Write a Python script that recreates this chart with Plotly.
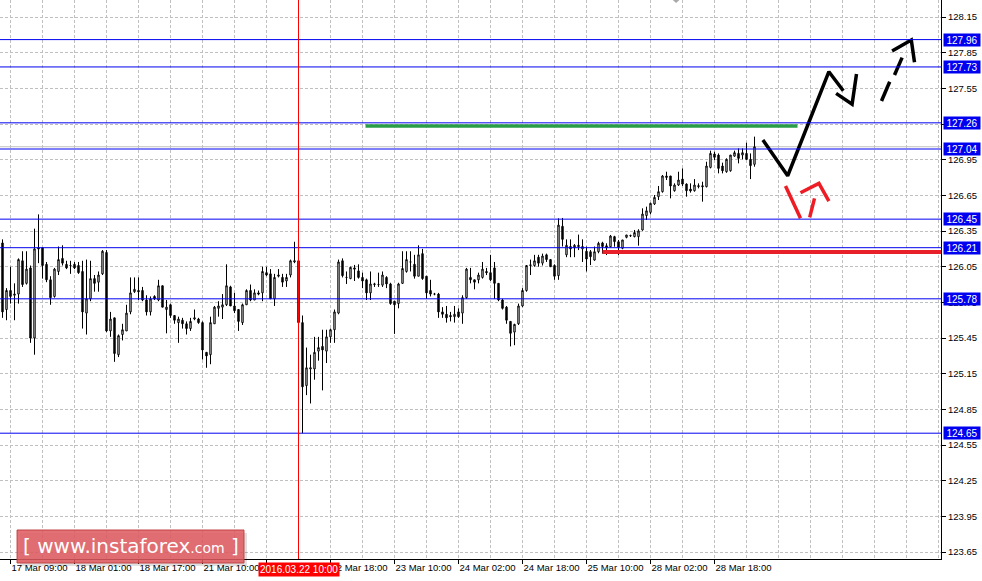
import plotly.graph_objects as go

# ---------------- data (H1 candles) ----------------
first_bar = -2
opens = [126.25, 125.69, 125.85, 125.81, 125.82, 126.10, 125.91, 126.04, 125.45, 126.21,
         126.21, 126.07, 125.94, 125.80, 126.01, 126.12, 126.07, 126.06, 126.07, 126.06,
         126.01, 125.66, 125.78, 125.95, 125.92, 125.99, 126.17, 125.51, 125.62, 125.31,
         125.48, 125.51, 125.67, 125.84, 125.85, 125.85, 125.77, 125.67, 125.80, 125.77,
         125.89, 125.69, 125.73, 125.64, 125.58, 125.60, 125.57, 125.53, 125.61, 125.61,
         125.58, 125.33, 125.31, 125.57, 125.70, 125.71, 125.73, 125.88, 125.72, 125.69,
         125.58, 125.73, 125.85, 125.77, 125.83, 125.83, 126.00, 125.99, 125.78, 125.97,
         125.96, 125.93, 125.98, 126.09, 126.10, 125.58, 125.05, 125.19, 125.19, 125.34,
         125.38, 125.34, 125.46, 125.52, 125.66, 126.10, 125.96, 125.95, 126.04, 126.015,
         125.96, 125.94, 125.83, 125.90, 125.90, 125.895, 125.96, 125.905, 125.76, 125.74,
         125.91, 126.01, 126.09, 126.07, 125.97, 126.16, 125.97, 125.85, 125.82, 125.82,
         125.67, 125.65, 125.64, 125.63, 125.67, 125.66, 125.79, 125.96, 125.94, 125.94,
         125.96, 126.01, 126.00, 126.04, 125.91, 125.77, 125.71, 125.59, 125.50, 125.57,
         125.72, 125.85, 126.06, 126.06, 126.13, 126.08, 126.15, 126.11, 126.06, 125.975,
         126.39, 126.15, 126.22, 126.21, 126.23, 126.20, 126.18, 126.176, 126.106, 126.176,
         126.25, 126.226, 126.218, 126.303, 126.26, 126.205, 126.297, 126.31, 126.303, 126.303,
         126.359, 126.48, 126.507, 126.578, 126.639, 126.681, 126.80, 126.813, 126.689, 126.737,
         126.787, 126.745, 126.703, 126.689, 126.723, 126.731, 126.723, 126.885, 126.998, 126.989,
         126.897, 126.849, 126.857, 126.98, 127.003, 126.989, 127.003, 126.953, 126.911]
highs = [126.28, 125.87, 126.05, 125.91, 126.12, 126.18, 126.18, 126.06, 126.37, 126.49,
         126.21, 126.09, 125.97, 126.04, 126.22, 126.23, 126.10, 126.10, 126.09, 126.09,
         126.10, 126.11, 126.10, 125.98, 126.01, 126.19, 126.19, 125.67, 125.62, 125.48,
         125.57, 125.73, 125.96, 125.96, 125.96, 125.88, 125.81, 125.80, 125.81, 125.94,
         125.89, 125.77, 125.74, 125.64, 125.63, 125.62, 125.59, 125.62, 125.69, 125.62,
         125.59, 125.33, 125.63, 125.72, 125.76, 125.82, 126.07, 125.89, 125.83, 125.69,
         125.74, 125.86, 125.90, 125.86, 125.85, 126.05, 126.05, 126.03, 125.99, 126.03,
         125.99, 125.99, 126.11, 126.26, 126.12, 125.64, 125.37, 125.31, 125.46, 125.46,
         125.52, 125.52, 125.53, 125.69, 126.11, 126.12, 126.01, 126.05, 126.065, 126.07,
         126.00, 125.95, 126.01, 125.915, 126.00, 126.01, 125.97, 125.915, 125.76, 125.915,
         126.18, 126.18, 126.18, 126.15, 126.23, 126.20, 125.97, 125.94, 125.83, 125.83,
         125.71, 125.72, 125.67, 125.72, 125.70, 125.81, 126.04, 126.04, 125.94, 126.00,
         126.09, 126.04, 126.15, 126.09, 125.91, 125.78, 125.72, 125.59, 125.57, 125.74,
         125.87, 126.064, 126.11, 126.15, 126.15, 126.16, 126.16, 126.11, 126.07, 126.457,
         126.46, 126.28, 126.28, 126.24, 126.32, 126.28, 126.22, 126.19, 126.22, 126.26,
         126.26, 126.247, 126.317, 126.31, 126.275, 126.275, 126.317, 126.32, 126.359, 126.365,
         126.541, 126.555, 126.588, 126.653, 126.729, 126.821, 126.849, 126.813, 126.751, 126.849,
         126.877, 126.751, 126.751, 126.787, 126.751, 126.765, 126.933, 127.026, 127.017, 127.003,
         126.925, 126.961, 126.989, 127.026, 127.045, 127.045, 127.093, 127.003, 127.144]
lows = [125.62, 125.60, 125.74, 125.60, 125.74, 125.88, 125.90, 125.41, 125.31, 126.08,
        125.95, 125.92, 125.73, 125.79, 125.98, 126.06, 126.03, 125.99, 126.03, 125.99,
        125.53, 125.48, 125.76, 125.84, 125.84, 125.98, 125.50, 125.46, 125.25, 125.29,
        125.43, 125.51, 125.65, 125.83, 125.77, 125.76, 125.64, 125.64, 125.77, 125.76,
        125.71, 125.49, 125.62, 125.57, 125.41, 125.53, 125.48, 125.51, 125.60, 125.57,
        125.27, 125.20, 125.23, 125.57, 125.63, 125.61, 125.72, 125.72, 125.66, 125.51,
        125.56, 125.73, 125.76, 125.77, 125.81, 125.76, 125.97, 125.78, 125.72, 125.96,
        125.88, 125.88, 125.96, 126.08, 125.57, 124.65, 124.97, 124.90, 125.10, 125.26,
        125.01, 125.24, 125.41, 125.41, 125.65, 125.96, 125.905, 125.945, 125.93, 125.95,
        125.87, 125.77, 125.77, 125.88, 125.88, 125.88, 125.87, 125.73, 125.485, 125.70,
        125.905, 126.00, 126.01, 125.95, 125.97, 125.94, 125.78, 125.80, 125.81, 125.62,
        125.62, 125.58, 125.59, 125.58, 125.62, 125.57, 125.78, 125.91, 125.86, 125.91,
        125.95, 125.98, 125.93, 125.78, 125.76, 125.69, 125.57, 125.38, 125.39, 125.56,
        125.71, 125.84, 125.98, 126.05, 126.05, 126.06, 126.09, 126.05, 125.94, 125.94,
        126.22, 126.13, 126.13, 126.13, 126.19, 126.09, 126.01, 126.064, 126.10, 126.163,
        126.16, 126.148, 126.213, 126.218, 126.148, 126.197, 126.289, 126.30, 126.297, 126.227,
        126.353, 126.443, 126.49, 126.569, 126.611, 126.673, 126.779, 126.625, 126.681, 126.729,
        126.729, 126.639, 126.673, 126.681, 126.709, 126.597, 126.717, 126.877, 126.947, 126.835,
        126.835, 126.84, 126.849, 126.975, 126.919, 126.953, 126.947, 126.787, 126.891]
closes = [125.67, 125.85, 125.80, 125.82, 126.11, 125.90, 126.03, 125.45, 126.20, 126.20,
          126.06, 125.94, 125.79, 126.03, 126.11, 126.08, 126.04, 126.06, 126.04, 126.00,
          125.67, 125.78, 125.95, 125.91, 125.98, 126.18, 125.51, 125.61, 125.32, 125.47,
          125.52, 125.66, 125.83, 125.86, 125.84, 125.77, 125.67, 125.78, 125.78, 125.89,
          125.71, 125.71, 125.64, 125.60, 125.61, 125.57, 125.53, 125.59, 125.62, 125.58,
          125.35, 125.30, 125.58, 125.71, 125.72, 125.73, 125.89, 125.72, 125.68, 125.59,
          125.73, 125.85, 125.77, 125.83, 125.82, 126.01, 125.98, 125.78, 125.96, 125.98,
          125.92, 125.96, 126.10, 126.10, 125.58, 125.04, 125.20, 125.20, 125.33, 125.37,
          125.35, 125.46, 125.52, 125.67, 126.09, 125.975, 125.96, 126.045, 126.03, 125.96,
          125.93, 125.83, 125.905, 125.905, 125.90, 125.98, 125.905, 125.74, 125.73, 125.905,
          126.035, 126.11, 126.09, 125.97, 126.15, 125.95, 125.83, 125.82, 125.82, 125.67,
          125.65, 125.62, 125.63, 125.65, 125.63, 125.79, 126.03, 125.94, 125.92, 125.98,
          126.03, 126.00, 125.94, 125.91, 125.77, 125.70, 125.60, 125.49, 125.565, 125.72,
          125.85, 126.06, 126.065, 126.10, 126.08, 126.14, 126.11, 126.05, 125.97, 126.40,
          126.28, 126.23, 126.20, 126.23, 126.22, 126.22, 126.115, 126.134, 126.176, 126.247,
          126.22, 126.21, 126.308, 126.261, 126.213, 126.275, 126.317, 126.312, 126.337, 126.351,
          126.493, 126.52, 126.583, 126.633, 126.681, 126.813, 126.813, 126.729, 126.737, 126.779,
          126.745, 126.689, 126.687, 126.737, 126.731, 126.723, 126.897, 127.003, 126.97, 126.877,
          126.857, 126.953, 126.989, 127.009, 126.961, 127.009, 126.953, 126.90, 127.059]
assert len(opens) == len(highs) == len(lows) == len(closes) == 189
bars = list(range(first_bar, first_bar + len(opens)))

# x-axis labels (bar index -> label), every 16 hourly bars
tick_bars = [0, 16, 32, 48, 64, 80, 96, 112, 128, 144, 160, 176]
tick_labels = ["17 Mar 09:00", "18 Mar 01:00", "18 Mar 17:00", "21 Mar 10:00",
               "22 Mar 02:00", "22 Mar 18:00", "23 Mar 10:00", "24 Mar 02:00",
               "24 Mar 18:00", "25 Mar 10:00", "28 Mar 02:00", "28 Mar 18:00"]
grid_bars = list(range(0, 233, 8))

# horizontal levels drawn on chart
levels = [127.96, 127.73, 127.26, 127.04, 126.45, 126.21, 125.78, 124.65]

# vertical marker
marker_bar = 72
marker_label = "2016.03.22 10:00"

# drawn zones / forecast strokes (bar index, price)
green_zone_x = [88.75, 196.75]
green_zone_y = 127.233
red_zone_x = [148, 232.75]
red_zone_y = 126.174
black_path_x = [188.1, 194.3, 204.6, 208.2]
black_path_y = [127.116, 126.815, 127.690, 127.530]
black_head_x = [206.4, 210.4, 211.5]
black_head_y = [127.508, 127.416, 127.671]
dash_seg1_x = [217.75, 219.8]
dash_seg1_y = [127.444, 127.606]
dash_seg2_x = [221.0, 222.9]
dash_seg2_y = [127.662, 127.808]
dash_head_x = [220.4, 225.2, 226.0]
dash_head_y = [127.864, 127.957, 127.769]
red_stroke1_x = [193.75, 197.5]
red_stroke1_y = [126.729, 126.457]
red_stroke2_x = [199.8, 201.0]
red_stroke2_y = [126.465, 126.625]
red_head_x = [197.5, 202.1, 204.6]
red_head_y = [126.672, 126.751, 126.602]

x_range = [-2.625, 232.625]
y_range = [123.592, 128.293]

FONT = "Liberation Sans"
FS = 9
BLUE = "#0000f0"
RED = "#ff0000"

fig = go.Figure()
fig.add_trace(go.Candlestick(
    x=bars, open=opens, high=highs, low=lows, close=closes,
    increasing=dict(line=dict(color="black", width=1), fillcolor="white"),
    decreasing=dict(line=dict(color="black", width=1), fillcolor="black"),
    whiskerwidth=0, showlegend=False, hoverinfo="skip"))

def stroke(xs, ys, color, width=3.5, dash=None):
    fig.add_trace(go.Scatter(x=xs, y=ys, mode="lines", showlegend=False, hoverinfo="skip",
                             line=dict(color=color, width=width, dash=dash)))

shapes = []
# bid line
shapes.append(dict(type="line", xref="paper", x0=0, x1=1, yref="y", y0=closes[-1], y1=closes[-1],
                   line=dict(color="#c0c0c0", width=1), layer="below"))
for lv in levels:
    shapes.append(dict(type="line", xref="paper", x0=0, x1=1, yref="y", y0=lv, y1=lv,
                       line=dict(color=BLUE, width=1)))
shapes.append(dict(type="line", xref="x", x0=marker_bar, x1=marker_bar, yref="paper", y0=0, y1=1,
                   line=dict(color=RED, width=1)))
shapes.append(dict(type="line", xref="x", x0=green_zone_x[0], x1=green_zone_x[1], yref="y",
                   y0=green_zone_y, y1=green_zone_y, line=dict(color="#2a9d48", width=3.5)))
shapes.append(dict(type="line", xref="x", x0=red_zone_x[0], x1=red_zone_x[1], yref="y",
                   y0=red_zone_y, y1=red_zone_y, line=dict(color="#e8202a", width=4)))
# small shift marker on top
shapes.append(dict(type="path", xref="paper", yref="paper",
                   path="M 0.7150 1 L 0.7220 1 L 0.7185 0.9945 Z",
                   fillcolor="#a8a8a8", line=dict(width=0)))
# watermark (shadow + box)
shapes.append(dict(type="rect", xref="paper", yref="paper", x0=0.0213, x1=0.2625,
                   y0=-0.0125, y1=0.0466, fillcolor="rgba(0,0,0,0.12)", line=dict(width=0)))
shapes.append(dict(type="rect", xref="paper", yref="paper", x0=0.0181, x1=0.2593,
                   y0=-0.0072, y1=0.0519, fillcolor="rgba(222,90,94,0.86)",
                   line=dict(color="rgba(190,60,60,0.9)", width=1)))

stroke(black_path_x, black_path_y, "black")
stroke(black_head_x, black_head_y, "black")
stroke(dash_seg1_x, dash_seg1_y, "black")
stroke(dash_seg2_x, dash_seg2_y, "black")
stroke(dash_head_x, dash_head_y, "black")
stroke(red_stroke1_x, red_stroke1_y, "#ee1c24")
stroke(red_stroke2_x, red_stroke2_y, "#ee1c24")
stroke(red_head_x, red_head_y, "#ee1c24")

annotations = []
for lv in levels:
    annotations.append(dict(text=f"{lv:.2f}", xref="paper", x=1, xanchor="left", xshift=2,
                            yref="y", y=lv, yanchor="middle", showarrow=False,
                            bgcolor=BLUE, font=dict(color="white", size=FS + 1, family=FONT),
                            borderpad=0, width=36, height=12, align="center"))
annotations.append(dict(text=marker_label, xref="x", x=marker_bar, xanchor="center",
                        yref="paper", y=0, yanchor="top", yshift=-3, showarrow=False,
                        bgcolor=RED, font=dict(color="white", size=FS + 1, family=FONT),
                        borderpad=1))
annotations.append(dict(text="[ www.instaforex<span style='font-size:14px'>.com</span> ]",
                        xref="paper", x=0.1387, xanchor="center", yref="paper", y=0.0224,
                        yanchor="middle", showarrow=False,
                        font=dict(color="white", size=20, family="DejaVu Sans")))

fig.update_layout(
    width=982, height=581,
    margin=dict(l=0, r=41, t=0, b=22, autoexpand=False),
    paper_bgcolor="white", plot_bgcolor="white",
    boxgap=0.5,
    shapes=shapes, annotations=annotations,
    font=dict(family=FONT, size=FS, color="black"),
    xaxis=dict(range=x_range, rangeslider=dict(visible=False), automargin=False,
               tickmode="array", tickvals=tick_bars, ticktext=tick_labels, tickangle=0,
               ticklabelposition="outside right", ticks="outside", ticklen=4, tickcolor="black",
               ticklabeloverflow="allow",
               showline=True, linecolor="black", linewidth=1,
               showgrid=True, gridcolor="#c0c0c0", griddash="3px,2px", gridwidth=1,
               minor=dict(tickmode="array", tickvals=grid_bars, showgrid=True,
                          gridcolor="#c0c0c0", griddash="3px,2px", ticks=""),
               zeroline=False, tickfont=dict(size=FS + 0.5, family=FONT, color="black")),
    yaxis=dict(range=y_range, side="right", tick0=123.65, dtick=0.3, tickformat=".2f",
               automargin=False, ticklabeloverflow="allow",
               ticks="outside", ticklen=4, tickcolor="black",
               showline=True, linecolor="black", linewidth=1,
               showgrid=True, gridcolor="#c0c0c0", griddash="3px,2px", gridwidth=1,
               zeroline=False, tickfont=dict(size=FS + 0.5, family=FONT, color="black")),
)

fig.write_html("out.html", config={"displayModeBar": False, "staticPlot": True},
               post_script="document.body.style.margin='0';document.body.style.padding='0';")
